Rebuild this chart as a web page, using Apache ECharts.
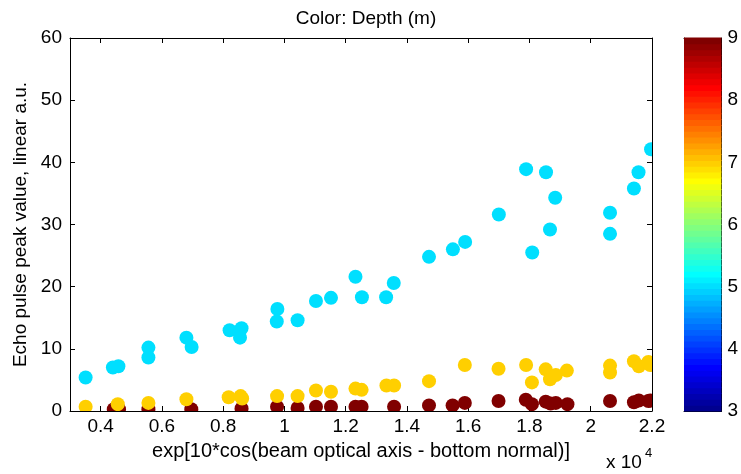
<!DOCTYPE html>
<html><head><meta charset="utf-8">
<script src="https://cdn.jsdelivr.net/npm/echarts@6/dist/echarts.min.js"></script>
<style>html,body{margin:0;padding:0;background:#fff}#c{width:741px;height:474px}</style>
</head><body><div id="c"></div>
<script>
// ---- data (x in units of 10^4) ----
const xTicks = [0.4, 0.6, 0.8, 1.0, 1.2, 1.4, 1.6, 1.8, 2.0, 2.2];
const yTicks = [0, 10, 20, 30, 40, 50, 60];
const cbTicks = [3, 4, 5, 6, 7, 8, 9];
const depthRange = [3, 9];
const depth5 = 5, depth7 = 7, depth9 = 9;
const pts5 = [[0.351,5.4],[0.440,7.0],[0.458,7.2],[0.556,10.2],[0.556,8.6],[0.680,11.8],[0.697,10.3],
  [0.821,13.0],[0.860,13.3],[0.855,11.8],[0.977,16.4],[0.975,14.4],[1.043,14.6],[1.103,17.7],[1.152,18.2],
  [1.232,21.6],[1.253,18.3],[1.332,18.3],[1.357,20.6],[1.472,24.8],[1.550,26.0],[1.590,27.2],[1.700,31.6],
  [1.789,38.9],[1.854,38.4],[1.884,34.3],[1.809,25.5],[1.867,29.2],[2.063,31.9],[2.063,28.5],[2.141,35.8],
  [2.156,38.4],[2.197,42.1]];
const pts7 = [[0.351,0.7],[0.456,1.1],[0.556,1.3],[0.680,1.9],[0.818,2.2],[0.857,2.4],[0.862,2.0],[0.976,2.4],
  [1.043,2.4],[1.103,3.3],[1.152,3.1],[1.232,3.6],[1.252,3.4],[1.333,4.1],[1.358,4.1],[1.472,4.8],[1.589,7.4],
  [1.699,6.8],[1.789,7.4],[1.808,4.6],[1.853,6.7],[1.867,5.1],[1.886,5.8],[1.922,6.5],[2.063,7.3],[2.063,6.2],
  [2.141,8.0],[2.157,7.2],[2.188,7.9],[2.194,7.4]];
const pts9 = [[0.443,0.3],[0.460,0.3],[0.556,0.3],[0.696,0.3],[0.860,0.4],[0.976,0.7],[1.043,0.5],[1.103,0.7],
  [1.152,0.7],[1.232,0.7],[1.252,0.7],[1.358,0.7],[1.472,0.9],[1.549,0.9],[1.589,1.3],[1.699,1.6],[1.788,1.8],
  [1.808,1.1],[1.853,1.5],[1.869,1.2],[1.886,1.3],[1.924,1.1],[2.063,1.6],[2.141,1.4],[2.157,1.7],[2.188,1.6],[2.194,1.7]];

// ---- MATLAB jet(64) colormap ----
function jet64(k) { // k: 1..64
  const u = j => (j < 1 || j > 47) ? 0 : (j <= 16 ? j / 16 : (j <= 31 ? 1 : (48 - j) / 16));
  const r = k >= 25 ? u(k - 24) : 0;
  const g = (k >= 9 && k <= 55) ? u(k - 8) : 0;
  const b = k <= 39 ? u(k + 8) : 0;
  return 'rgb(' + Math.round(r * 255) + ',' + Math.round(g * 255) + ',' + Math.round(b * 255) + ')';
}
function depthColor(v) {
  let k = Math.floor((v - depthRange[0]) / (depthRange[1] - depthRange[0]) * 64) + 1;
  k = Math.max(1, Math.min(64, k));
  return jet64(k);
}
const cbBands = [];
for (let i = 0; i < 64; i++) {
  const lo = depthRange[0] + i * (depthRange[1] - depthRange[0]) / 64;
  const hi = depthRange[0] + (i + 1) * (depthRange[1] - depthRange[0]) / 64;
  cbBands.push([lo, hi, i + 1]);
}

const FONT = '"Liberation Sans", Arial, Helvetica, sans-serif';
const FS = 19;
const tickFmt = v => String(+(+v).toFixed(1));
const L = 70, R = 652, T = 38, B = 411;

function dotSeries(name, pts, depth) {
  const col = depthColor(depth);
  return { name: name, type: 'custom', xAxisIndex: 0, yAxisIndex: 0, clip: true, data: pts,
    renderItem: function (params, api) {
      const p = api.coord([api.value(0), api.value(1)]);
      return { type: 'circle', shape: { cx: p[0], cy: p[1], r: 7 }, style: { fill: col } };
    } };
}

const chart = echarts.init(document.getElementById('c'), null, { renderer: 'canvas' });
const axLine = { show: true, onZero: false, lineStyle: { color: '#000', width: 1 } };
chart.setOption({
  animation: false,
  backgroundColor: '#fff',
  title: {
    text: 'Color: Depth (m)', left: (L + R) / 2, top: 4, textAlign: 'center',
    textStyle: { fontFamily: FONT, fontSize: FS, fontWeight: 'normal', color: '#000' }
  },
  grid: [
    { left: L, top: T, width: R - L, height: B - T, containLabel: false },
    { left: 684, top: T, width: 40, height: B - T, containLabel: false }
  ],
  xAxis: [
    { type: 'value', gridIndex: 0, position: 'bottom', min: 0.3, max: 2.2,
      axisLine: axLine,
      axisTick: { show: true, inside: true, length: 5, customValues: xTicks, lineStyle: { color: '#000' } },
      axisLabel: { show: true, customValues: xTicks, formatter: tickFmt, margin: 6,
        fontFamily: FONT, fontSize: FS, color: '#000' },
      splitLine: { show: false },
      name: 'exp[10*cos(beam optical axis - bottom normal)]', nameLocation: 'middle', nameGap: 30,
      nameTextStyle: { fontFamily: FONT, fontSize: 20, color: '#000' } },
    { type: 'value', gridIndex: 0, position: 'top', min: 0.3, max: 2.2,
      axisLine: axLine,
      axisTick: { show: true, inside: true, length: 5, customValues: xTicks, lineStyle: { color: '#000' } },
      axisLabel: { show: false }, splitLine: { show: false } },
    { type: 'value', gridIndex: 1, position: 'bottom', min: 0, max: 1,
      axisLine: axLine, axisTick: { show: false }, axisLabel: { show: false }, splitLine: { show: false } },
    { type: 'value', gridIndex: 1, position: 'top', min: 0, max: 1,
      axisLine: axLine, axisTick: { show: false }, axisLabel: { show: false }, splitLine: { show: false } }
  ],
  yAxis: [
    { type: 'value', gridIndex: 0, position: 'left', min: yTicks[0], max: yTicks[yTicks.length - 1], interval: 10,
      axisLine: axLine,
      axisTick: { show: true, inside: true, length: 5, lineStyle: { color: '#000' } },
      axisLabel: { show: true, margin: 8, fontFamily: FONT, fontSize: FS, color: '#000' },
      splitLine: { show: false },
      name: 'Echo pulse peak value, linear a.u.', nameLocation: 'middle', nameGap: 40,
      nameTextStyle: { fontFamily: FONT, fontSize: FS, color: '#000' } },
    { type: 'value', gridIndex: 0, position: 'right', min: yTicks[0], max: yTicks[yTicks.length - 1], interval: 10,
      axisLine: axLine,
      axisTick: { show: true, inside: true, length: 5, lineStyle: { color: '#000' } },
      axisLabel: { show: false }, splitLine: { show: false } },
    { type: 'value', gridIndex: 1, position: 'right', min: cbTicks[0], max: cbTicks[cbTicks.length - 1], interval: 1,
      axisLine: axLine,
      axisTick: { show: true, inside: true, length: 4, lineStyle: { color: '#000' } },
      axisLabel: { show: true, margin: 6, fontFamily: FONT, fontSize: FS, color: '#000' },
      splitLine: { show: false } },
    { type: 'value', gridIndex: 1, position: 'left', min: cbTicks[0], max: cbTicks[cbTicks.length - 1], interval: 1,
      axisLine: axLine,
      axisTick: { show: true, inside: true, length: 4, lineStyle: { color: '#000' } },
      axisLabel: { show: false }, splitLine: { show: false } }
  ],
  series: [
    { type: 'custom', xAxisIndex: 2, yAxisIndex: 2, z: 1, silent: true,
      data: cbBands,
      renderItem: function (params, api) {
        const p0 = api.coord([0, api.value(0)]);
        const p1 = api.coord([1, api.value(1)]);
        return { type: 'rect',
          shape: { x: p0[0], y: p1[1] - 0.5, width: p1[0] - p0[0], height: p0[1] - p1[1] + 1 },
          style: { fill: jet64(api.value(2)) } };
      } },
    dotSeries(depth9 + ' m', pts9, depth9),
    dotSeries(depth7 + ' m', pts7, depth7),
    dotSeries(depth5 + ' m', pts5, depth5)
  ],
  graphic: [
    { type: 'text', x: 606, y: 463, style: { text: 'x 10', font: FS + 'px ' + FONT, fill: '#000', verticalAlign: 'middle' } },
    { type: 'text', x: 645, y: 453, style: { text: '4', font: '13px ' + FONT, fill: '#000', verticalAlign: 'middle' } }
  ]
});
</script>
</body></html>
